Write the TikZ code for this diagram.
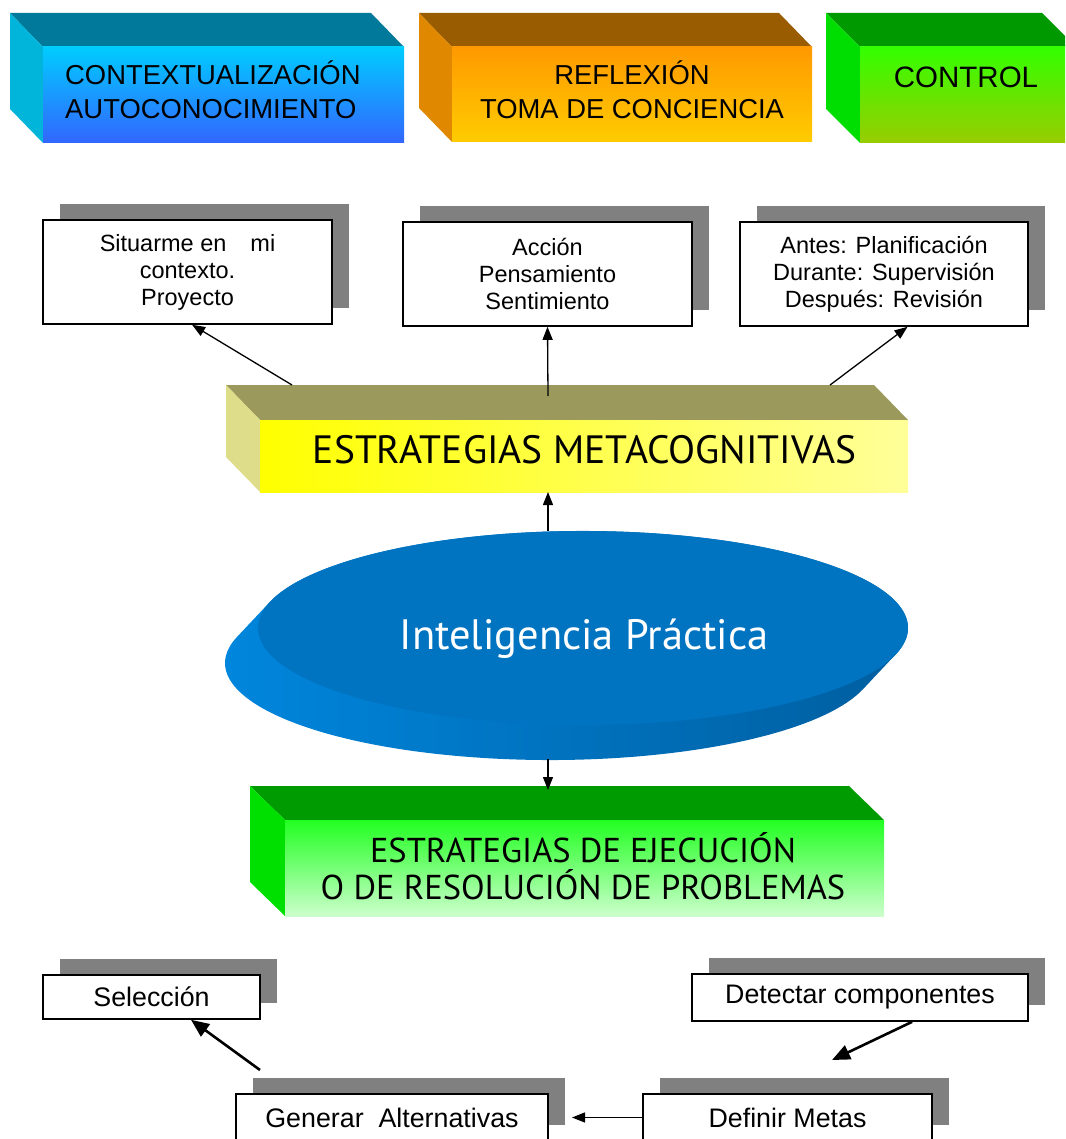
\documentclass[tikz,border=0pt]{standalone}
\usepackage{fontspec}
\setmainfont{Liberation Sans}
\newfontfamily\humfont{PT Sans}
\usetikzlibrary{arrows.meta,shadows,calc,shapes.geometric}

\definecolor{shadowgray}{HTML}{808080}
\definecolor{cyTop}{HTML}{00799A}
\definecolor{cySide}{HTML}{00B4DA}
\definecolor{cyA}{HTML}{00CCFF}
\definecolor{cyB}{HTML}{3366FF}
\definecolor{orTop}{HTML}{995C00}
\definecolor{orSide}{HTML}{E08800}
\definecolor{orA}{HTML}{FF9900}
\definecolor{orB}{HTML}{FFCC00}
\definecolor{grTop}{HTML}{009900}
\definecolor{grSide}{HTML}{00DD00}
\definecolor{grA}{HTML}{33FF00}
\definecolor{grB}{HTML}{99CC00}
\definecolor{mcTop}{HTML}{9B9A5C}
\definecolor{mcSide}{HTML}{DEDE8A}
\definecolor{mcA}{HTML}{FFFF00}
\definecolor{mcB}{HTML}{FFFF99}
\definecolor{ejTop}{HTML}{009B00}
\definecolor{ejSide}{HTML}{00E000}
\definecolor{ejA}{HTML}{22FF22}
\definecolor{ejB}{HTML}{CCFFCC}
\definecolor{discTop}{HTML}{0074C1}
\definecolor{discL}{HTML}{0088E0}
\definecolor{discR}{HTML}{005C9C}

% top and left faces of a slab: front NW (#1,#2), front SE (#3,#4), depth (#5,#6)
\newcommand\slabfaces[8]{%
  \fill[#7] (#1,#2) -- (#1-#5,#2-#6) -- (#3-#5,#2-#6) -- (#3,#2) -- cycle;
  \fill[#8] (#1,#2) -- (#1-#5,#2-#6) -- (#1-#5,#4-#6) -- (#1,#4) -- cycle;
}

\tikzset{
  front/.style={inner sep=0pt, draw=none},
  arr/.style={-{Triangle[length=13pt,width=10pt]}, line width=1.3pt},
  arrbig/.style={-{Triangle[length=18pt,width=15pt]}, line width=2.6pt},
  tbox/.style={draw=black, line width=1.6pt, fill=white, inner sep=0pt, align=center,
    drop shadow={shadow xshift=17pt, shadow yshift=16pt, fill=shadowgray, opacity=1}},
  smalltxt/.style={font=\fontsize{23.5}{27}\selectfont},
  bigtxt/.style={font=\fontsize{26.8}{31}\selectfont},
  headtxt/.style={font=\fontsize{27.4}{34}\selectfont},
  humtxt/.style={font=\humfont\fontsize{34.5}{37}\selectfont},
}

\begin{document}
\begin{tikzpicture}[x=1pt,y=-1pt]
\useasboundingbox (0,0) rectangle (1065,1139);
\fill[white] (0,0) rectangle (1065,1139);
\clip (0,0) rectangle (1065,1139);

% ---- header slabs ----
\slabfaces{43}{47}{404}{143}{33}{34}{cyTop}{cySide}
\node[front, minimum width=361, minimum height=96, top color=cyA, bottom color=cyB] (hA) at (223.5,95) {};
\node[headtxt, align=left, anchor=west, inner sep=0pt] (hAt) at (65,90) {CONTEXTUALIZACIÓN\\AUTOCONOCIMIENTO};

\slabfaces{452}{47}{812}{142}{33}{34}{orTop}{orSide}
\node[front, minimum width=360, minimum height=95, top color=orA, bottom color=orB] (hB) at (632,94.5) {};
\node[headtxt, align=center, inner sep=0pt] (hBt) at (632,90) {REFLEXIÓN\\TOMA DE CONCIENCIA};

\slabfaces{860}{47}{1076}{143}{34}{34}{grTop}{grSide}
\node[front, minimum width=216, minimum height=96, top color=grA, bottom color=grB] (hC) at (968,95) {};
\node[font=\fontsize{29.5}{32}\selectfont, anchor=base, inner sep=0pt] (hCt) at (966,88) {CONTROL};

% ---- metacognitive strategies ----
\slabfaces{260}{420}{908}{492}{34}{35}{mcTop}{mcSide}
\node[front, minimum width=648, minimum height=72, left color=mcA, right color=mcB] (mc) at (584,456) {};
\node[font=\humfont\fontsize{39.5}{42}\selectfont, anchor=base, inner sep=0pt] (mct) at (584.5,463) {ESTRATEGIAS METACOGNITIVAS};

% ---- boxes above ----
\node[tbox, smalltxt, minimum width=289, minimum height=104] (sA) at (187.5,272) {\raisebox{-1.5pt}{}Situarme en\hspace{24pt}mi\\contexto.\\Proyecto};
\node[tbox, smalltxt, minimum width=289, minimum height=104] (sB) at (547.5,274) {Acción\\Pensamiento\\Sentimiento};
\node[tbox, smalltxt, minimum width=288, minimum height=104] (sC) at (884,274) {Antes: Planificación\\Durante: Supervisión\\Después: Revisión};

% ---- practical intelligence disc ----
\shade[left color=discL, right color=discR]
  (270.1,601.75) arc[start angle=195.7, end angle=375.7, x radius=325, y radius=97]
  -- (862.9,689.25) arc[start angle=15.7, end angle=195.7, x radius=325, y radius=97] -- cycle;
\node[ellipse, fill=discTop, minimum width=650, minimum height=194, inner sep=0pt] (disc) at (583,628) {};
\node[font=\humfont\fontsize{42.5}{45}\selectfont, text=white, anchor=base, inner sep=0pt] (disct) at (584,649) {Inteligencia Práctica};

% ---- execution strategies ----
\slabfaces{285}{820}{884}{916}{35}{34}{ejTop}{ejSide}
\node[front, minimum width=599, minimum height=96, top color=ejA, bottom color=ejB] (ej) at (584.5,868) {};
\node[humtxt, align=center, inner sep=0pt] (ejt) at (583,866) {ESTRATEGIAS DE EJECUCIÓN\\O DE RESOLUCIÓN DE PROBLEMAS};

% ---- boxes below ----
\node[tbox, bigtxt, minimum width=217, minimum height=44] (sel) at (151.5,997) {Selección};
\node[tbox, bigtxt, minimum width=336, minimum height=47] (det) at (860,997.5) {Detectar componentes};
\node[tbox, bigtxt, minimum width=312, minimum height=47] (gen) at (392,1117.5) {Generar \ Alternativas};
\node[tbox, bigtxt, minimum width=289, minimum height=47] (def) at (787.5,1117.5) {Definir Metas};

% ---- connector ends ----
\coordinate (mcNA) at (292,385);
\coordinate (mcNB) at (548,396);
\coordinate (mcNC) at (830,385);
\coordinate (mcS) at (548,492);
\coordinate (discS) at (548,759);
\coordinate (ejN) at (548,790);
\coordinate (genN) at (260,1070);
\coordinate (defN) at (832,1060);
\coordinate (genE) at (572,1117.5);

% ---- connectors ----
\draw[arr] (mcNA) -- (sA.-85);
\draw[arr] (mcNB) -- (sB.south);
\draw[arr] (mcNC) -- (sC.-66);
\draw[arr] (mcS |- disc.north) -- (mcS);
\draw[arr] (discS) -- (ejN);
\draw[arrbig] (genN) -- (sel.-30);
\draw[arrbig] (det.-25) -- (defN);
\draw[arr] (def.west) -- (genE);
\end{tikzpicture}
\end{document}
